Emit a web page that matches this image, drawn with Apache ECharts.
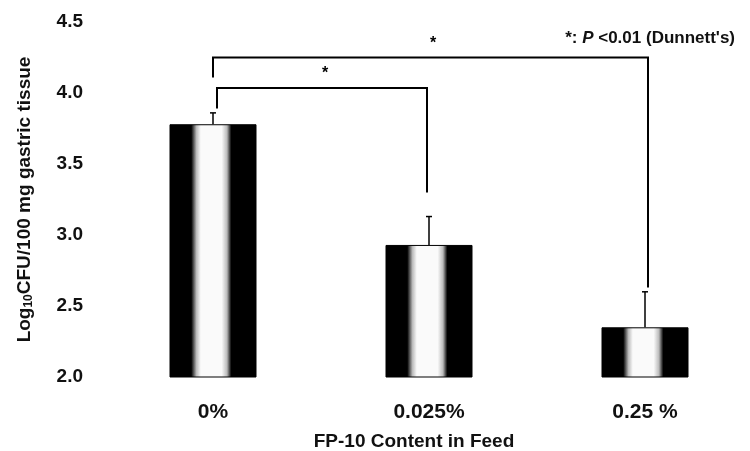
<!DOCTYPE html>
<html>
<head>
<meta charset="utf-8">
<script src="https://cdn.jsdelivr.net/npm/echarts@6/dist/echarts.min.js"></script>
<style>html,body{margin:0;padding:0;background:#fff;}#c{width:750px;height:451px;}</style>
</head>
<body>
<div id="c"></div>
<script>
var categories = ['0%', '0.025%', '0.25 %'];
var means = [3.78, 2.93, 2.35];
var errTops = [3.86, 3.13, 2.60];
// brackets: [fromIndex, toIndex, barY, leftEndY, rightEndY, label]
var brackets = [
  [0, 2, 4.25, 4.11, 2.63, '*'],
  [0, 1, 4.035, 3.89, 3.30, '*']
];
var yTicks = { min: 2.0, max: 4.5, interval: 0.5 };

var FONT = '"Liberation Sans", Arial, sans-serif';
var chart = echarts.init(document.getElementById('c'));

var barGrad = {
  type: 'linear', x: 0, y: 0, x2: 1, y2: 0,
  colorStops: [
    { offset: 0, color: '#000' },
    { offset: 0.25, color: '#000' },
    { offset: 0.31, color: '#bbb' },
    { offset: 0.36, color: '#fafafa' },
    { offset: 0.6, color: '#fafafa' },
    { offset: 0.66, color: '#bbb' },
    { offset: 0.71, color: '#000' },
    { offset: 1, color: '#000' }
  ]
};

chart.setOption({
  animation: false,
  backgroundColor: '#fff',
  grid: { left: 105, right: -3, top: 22, bottom: 74, outerBoundsMode: 'none', containLabel: false },
  xAxis: {
    type: 'category',
    data: categories,
    axisLine: { show: false },
    axisTick: { show: false },
    axisLabel: { margin: 25, fontFamily: FONT, fontWeight: 'bold', fontSize: 21, color: '#111' },
    name: 'FP-10 Content in Feed',
    nameLocation: 'middle',
    nameGap: 55,
    nameTextStyle: { fontFamily: FONT, fontWeight: 'bold', fontSize: 19, color: '#111', padding: [0, 30, 0, 0] }
  },
  yAxis: {
    type: 'value',
    min: yTicks.min, max: yTicks.max, interval: yTicks.interval,
    axisLine: { show: false },
    axisTick: { show: false },
    splitLine: { show: false },
    axisLabel: {
      margin: 22,
      fontFamily: FONT, fontWeight: 'bold', fontSize: 19, color: '#111',
      formatter: function (v) { return v.toFixed(1); }
    },
    name: '{a|Log}{s|10}{a|CFU/100 mg gastric tissue}',
    nameLocation: 'middle',
    nameGap: 70,
    nameRotate: 90,
    nameTextStyle: {
      rich: {
        a: { fontFamily: FONT, fontWeight: 'bold', fontSize: 19, color: '#111' },
        s: { fontFamily: FONT, fontWeight: 'bold', fontSize: 12, color: '#111', verticalAlign: 'bottom', padding: [8, 0, 0, 0] }
      }
    }
  },
  series: [
    {
      type: 'bar',
      data: means,
      barWidth: 87,
      itemStyle: { color: barGrad, borderColor: '#000', borderWidth: 1 }
    },
    {
      type: 'custom',
      clip: false,
      z: 5,
      data: means.map(function (m, i) { return [i, m, errTops[i]]; }),
      renderItem: function (params, api) {
        var p0 = api.coord([api.value(0), api.value(1)]);
        var p1 = api.coord([api.value(0), api.value(2)]);
        return {
          type: 'group',
          children: [
            { type: 'line', shape: { x1: p0[0], y1: p0[1], x2: p1[0], y2: p1[1] }, style: { stroke: '#000', lineWidth: 1.5 } },
            { type: 'line', shape: { x1: p1[0] - 3, y1: p1[1], x2: p1[0] + 3, y2: p1[1] }, style: { stroke: '#000', lineWidth: 1.5 } }
          ]
        };
      }
    },
    {
      type: 'custom',
      clip: false,
      z: 5,
      data: brackets.map(function (b) { return b.slice(0, 5); }),
      renderItem: function (params, api) {
        var b = brackets[params.dataIndex];
        var pl = api.coord([b[0], b[3]]);
        var ptl = api.coord([b[0], b[2]]);
        var ptr = api.coord([b[1], b[2]]);
        var pr = api.coord([b[1], b[4]]);
        var dx = params.dataIndex === 0 ? 0 : 4;
        var rdx = params.dataIndex === 0 ? 3 : -2;
        return {
          type: 'group',
          children: [
            { type: 'polyline', shape: { points: [[pl[0] + dx, pl[1]], [ptl[0] + dx, ptl[1]], [ptr[0] + rdx, ptr[1]], [pr[0] + rdx, pr[1]]] },
              style: { stroke: '#000', lineWidth: 2, fill: null } },
            { type: 'text', style: { text: b[5], x: (ptl[0] + ptr[0]) / 2 + 4, y: ptl[1] - 6, align: 'center', verticalAlign: 'bottom',
              font: 'bold 16px ' + FONT, fill: '#000' } }
          ]
        };
      }
    }
  ],
  graphic: [
    {
      type: 'text',
      right: 15,
      top: 30,
      style: {
        text: '{b|*: }{i|P}{b| <0.01 (Dunnett\'s)}',
        rich: {
          b: { fontFamily: FONT, fontWeight: 'bold', fontSize: 17, fill: '#111' },
          i: { fontFamily: FONT, fontWeight: 'bold', fontStyle: 'italic', fontSize: 17, fill: '#111' }
        }
      }
    }
  ]
});
</script>
</body>
</html>
